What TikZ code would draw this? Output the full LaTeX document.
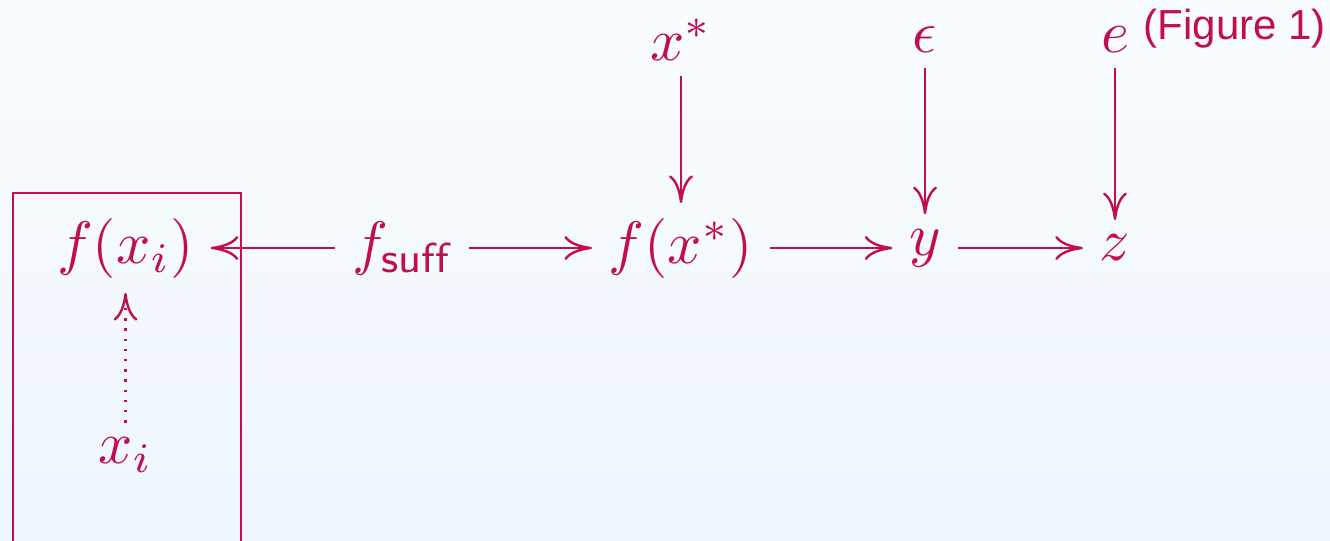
\documentclass[tikz,border=0pt]{standalone}
\usepackage{fontspec}
\newfontfamily\figfont{Liberation Sans}
\usetikzlibrary{arrows.meta}
\definecolor{crim}{RGB}{195,14,76}
\definecolor{bgtop}{RGB}{250,253,255}
\definecolor{bgbot}{RGB}{238,246,254}
\begin{document}
\begin{tikzpicture}[x=0.166667pt,y=-0.166667pt,
  obj/.style={inner xsep=2.8pt, inner ysep=2.5pt, outer sep=0pt, text=crim},
  arr/.style={draw=crim, line width=0.4pt, -{To[length=4.6pt,width=4pt]}},
  dotarr/.style={arr, dash pattern=on 0.4pt off 1.3pt},
  frame/.style={draw=crim, line width=0.45pt}]
\useasboundingbox (0,0) rectangle (1330,540);
\clip (0,0) rectangle (1330,540);
\fill[top color=bgtop, bottom color=bgbot] (0,0) rectangle (1330,540);
% nodes
\node[obj] (fxi)   at (125.5,248) {$f(x_i)$};
\node[obj] (fsuff) at (402,248) {$f_{\mathsf{suff}}$};
\node[obj] (fxs)   at (681,248) {$f(x^*)$};
\node[obj] (y)     at (925,248) {$y$};
\node[obj] (z)     at (1115,248) {$z$};
\node[obj] (xs)    at (681,40) {$x^*$};
\node[obj] (eps)   at (925,40) {$\epsilon$};
\node[obj] (e)     at (1115,40) {$e$};
\node[obj] (xi)    at (125.5,455) {$x_i$};
\node[text=crim, font=\scriptsize\figfont, inner sep=0pt] (fig) at (1235,29) {(Figure 1)};
% frame
\coordinate (bl) at (13,548);
\coordinate (tl) at (13,193);
\coordinate (tr) at (241,193);
\coordinate (br) at (241,548);
\draw[frame] (bl) -- (tl) -- (tr) -- (br);
% arrows
\draw[arr] (fsuff) -- (fxi);
\draw[arr] (fsuff) -- (fxs);
\draw[arr] (fxs) -- (y);
\draw[arr] (y) -- (z);
\draw[arr] (xs) -- (fxs);
\draw[arr] (eps) -- (y);
\draw[arr] (e) -- (z);
\draw[dotarr] (xi) -- (fxi);
\end{tikzpicture}
\end{document}
